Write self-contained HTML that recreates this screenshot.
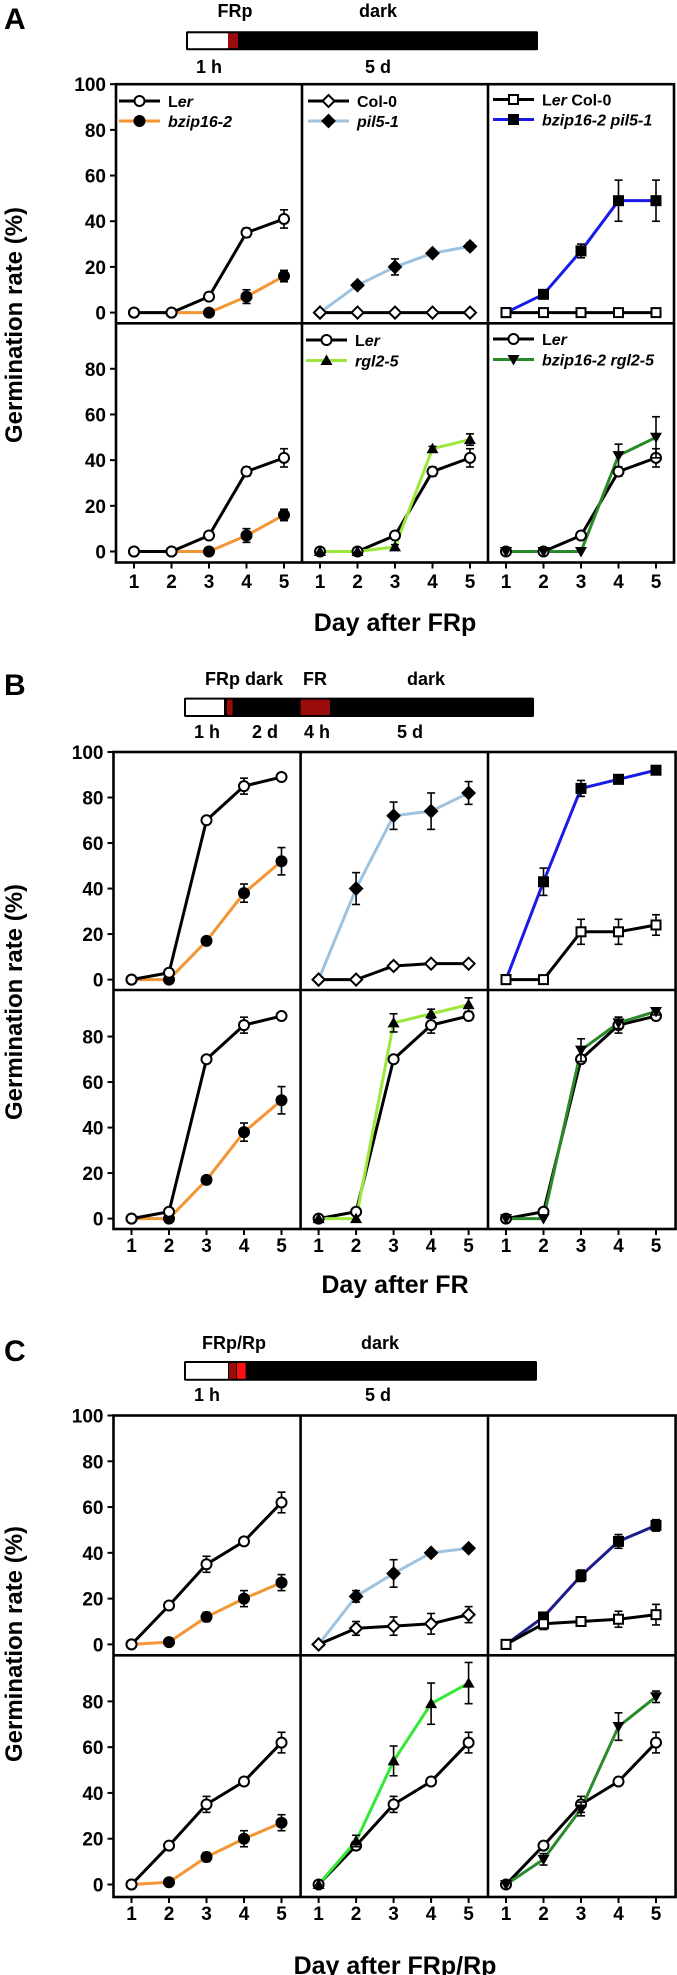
<!DOCTYPE html>
<html><head><meta charset="utf-8">
<style>
html,body{margin:0;padding:0;background:#fff;}
svg{display:block;font-family:"Liberation Sans",Arial,sans-serif;font-weight:bold;}
</style></head>
<body>
<svg id="fig" width="677" height="1975" viewBox="0 0 677 1975" xmlns="http://www.w3.org/2000/svg"></svg>
<script>
// ---- data ----
const days=[1,2,3,4,5];
const yTicksTop=[0,20,40,60,80,100];
const yTicksBot=[0,20,40,60,80];
// Panel A
const A_ler=[0,0,7,35,41], A_ler_e=[0,0,1,2,4];
const A_bzip=[0,0,0,7,16], A_bzip_e=[0,0,0,3,2.5];
const A_col=[0,0,0,0,0], A_col_e=[0,0,0,0,0];
const A_pil=[0,12,20,26,29], A_pil_e=[0,1,3.5,1,1.5];
const A_lercol=[0,0,0,0,0], A_lercol_e=[0,0,0,0,0];
const A_bzpil=[0,8,27,49,49], A_bzpil_e=[0,1.5,3,9,9];
const A_rgl=[0,0,2,45,49], A_rgl_e=[0,0,1,1,2.5];
const A_bzrgl=[0,0,0,42,50], A_bzrgl_e=[0,0,0,5,9];
// Panel B
const B_ler=[0,3,70,85,89], B_ler_e=[0,1,1,3.5,1];
const B_bzip=[0,0,17,38,52], B_bzip_e=[0,0,1.5,4,6];
const B_col=[0,0,6,7,7], B_col_e=[0,0,1.5,1,1];
const B_pil=[0,40,72,74,82], B_pil_e=[0,7,6,8,5];
const B_lercol=[0,0,21,21,24], B_lercol_e=[0,0,5.5,5.5,4.5];
const B_bzpil=[0,43,84,88,92], B_bzpil_e=[0,6,3.5,2,1];
const B_rgl=[0,0,86,90,94], B_rgl_e=[0,0,4,2,3];
const B_bzrgl=[0,0,74,86,91], B_bzrgl_e=[0,0,5,2.5,1.5];
// Panel C
const C_ler=[0,17,35,45,62], C_ler_e=[0,1,3.5,1.5,4.5];
const C_bzip=[0,1,12,20,27], C_bzip_e=[0,0.5,2,3.5,3.5];
const C_col=[0,7,8,9,13], C_col_e=[0,3,4,4.5,3.5];
const C_pil=[0,21,31,40,42], C_pil_e=[0,2.5,6,1,0.5];
const C_lercol=[0,9,10,11,13], C_lercol_e=[0,2.5,1.5,3.5,4.5];
const C_bzpil=[0,12,30,45,52], C_bzpil_e=[0,1.5,2.5,3,2.5];
const C_rgl=[0,19,54,79,88], C_rgl_e=[0,2.5,6.5,9,9];
const C_bzrgl=[0,11,33,69,82], C_bzrgl_e=[0,2.5,3,6,2.5];

const svg=document.getElementById('fig');
const NS='http://www.w3.org/2000/svg';
function el(tag,attrs,parent){const e=document.createElementNS(NS,tag);for(const k in attrs)e.setAttribute(k,attrs[k]);(parent||svg).appendChild(e);return e;}
function txt(s,x,y,size,attrs,parent){const t=el('text',Object.assign({x:x,y:y,'font-size':size,fill:'#000'},attrs||{}),parent);t.textContent=s;return t;}

const ORANGE='#f39533',LBLUE='#9fc3df',BLUE='#1a1ae8',NAVY='#1c1c8a',LGREEN='#9be83a',GREEN='#36e836',DGREEN='#2a8a2a';

const figs=[
 {name:'A',top:84.2,div:323.3,bot:562.5,zTop:312.6,zBot:551.5,left:116,cols:[116,302,488],right:674,tickY:581,title:'Day after FRp',titleY:631,ytY:325,
  letterY:29,bar:{x:186,y:31.3,w:352,h:18.9,segs:[[186,228,'#fff'],[228,238,'#9a0b0b']]},
  labels:[['FRp',235,17],['dark',378,17],['1 h',209,73],['5 d',378,73]]},
 {name:'B',top:752,div:990,bot:1229,zTop:979.6,zBot:1218.6,left:113.5,cols:[113.5,300.6,488],right:675.6,tickY:1245,title:'Day after FR',titleY:1293,ytY:1002,
  letterY:695,bar:{x:184,y:697.6,w:350,h:19.4,segs:[[184,224,'#fff'],[227,232.6,'#9a0b0b'],[300.6,330,'#9a0b0b']]},
  labels:[['FRp dark',244,685],['FR',315,685],['dark',426,685],['1 h',207,738],['2 d',265,738],['4 h',317,738],['5 d',410,738]]},
 {name:'C',top:1415.5,div:1655.3,bot:1897,zTop:1644.4,zBot:1884.5,left:113.5,cols:[113.5,300.6,488],right:675.6,tickY:1913,title:'Day after FRp/Rp',titleY:1974,ytY:1644,
  letterY:1361,bar:{x:184,y:1361,w:353,h:19.8,segs:[[184,228,'#fff'],[229,236,'#9a0b0b'],[237,245.6,'#ff1010']]},
  labels:[['FRp/Rp',234,1349],['dark',380,1349],['1 h',207,1401],['5 d',378,1401]]}
];

const subplots=[
 ['A',0,0,[[A_bzip,A_bzip_e,ORANGE,'fcircle'],[A_ler,A_ler_e,'#000','ocircle']]],
 ['A',0,1,[[A_pil,A_pil_e,LBLUE,'fdiamond'],[A_col,A_col_e,'#000','odiamond']]],
 ['A',0,2,[[A_bzpil,A_bzpil_e,BLUE,'fsquare'],[A_lercol,A_lercol_e,'#000','osquare']]],
 ['A',1,0,[[A_bzip,A_bzip_e,ORANGE,'fcircle'],[A_ler,A_ler_e,'#000','ocircle']]],
 ['A',1,1,[[A_ler,A_ler_e,'#000','ocircle'],[A_rgl,A_rgl_e,LGREEN,'tri']]],
 ['A',1,2,[[A_ler,A_ler_e,'#000','ocircle'],[A_bzrgl,A_bzrgl_e,DGREEN,'itri']]],
 ['B',0,0,[[B_bzip,B_bzip_e,ORANGE,'fcircle'],[B_ler,B_ler_e,'#000','ocircle']]],
 ['B',0,1,[[B_pil,B_pil_e,LBLUE,'fdiamond'],[B_col,B_col_e,'#000','odiamond']]],
 ['B',0,2,[[B_bzpil,B_bzpil_e,BLUE,'fsquare'],[B_lercol,B_lercol_e,'#000','osquare']]],
 ['B',1,0,[[B_bzip,B_bzip_e,ORANGE,'fcircle'],[B_ler,B_ler_e,'#000','ocircle']]],
 ['B',1,1,[[B_ler,B_ler_e,'#000','ocircle'],[B_rgl,B_rgl_e,LGREEN,'tri']]],
 ['B',1,2,[[B_ler,B_ler_e,'#000','ocircle'],[B_bzrgl,B_bzrgl_e,DGREEN,'itri']]],
 ['C',0,0,[[C_bzip,C_bzip_e,ORANGE,'fcircle'],[C_ler,C_ler_e,'#000','ocircle']]],
 ['C',0,1,[[C_pil,C_pil_e,LBLUE,'fdiamond'],[C_col,C_col_e,'#000','odiamond']]],
 ['C',0,2,[[C_bzpil,C_bzpil_e,NAVY,'fsquare'],[C_lercol,C_lercol_e,'#000','osquare']]],
 ['C',1,0,[[C_bzip,C_bzip_e,ORANGE,'fcircle'],[C_ler,C_ler_e,'#000','ocircle']]],
 ['C',1,1,[[C_ler,C_ler_e,'#000','ocircle'],[C_rgl,C_rgl_e,GREEN,'tri']]],
 ['C',1,2,[[C_ler,C_ler_e,'#000','ocircle'],[C_bzrgl,C_bzrgl_e,DGREEN,'itri']]]
];

function marker(type,x,y,g){
  const r=5;
  if(type==='ocircle'||type==='fcircle'){const m=el('circle',{cx:x,cy:y,r:r,fill:type[0]==='o'?'#fff':'#000',stroke:'#000','stroke-width':2},g);}
  else if(type==='odiamond'||type==='fdiamond'){const m=el('polygon',{points:`${x},${y-6} ${x+6},${y} ${x},${y+6} ${x-6},${y}`,fill:type[0]==='o'?'#fff':'#000',stroke:'#000','stroke-width':2},g);}
  else if(type==='osquare'||type==='fsquare'){const m=el('rect',{x:x-4.5,y:y-4.5,width:9,height:9,fill:type[0]==='o'?'#fff':'#000',stroke:'#000','stroke-width':2},g);}
  else if(type==='tri'){const m=el('polygon',{points:`${x},${y-6} ${x+6},${y+4.5} ${x-6},${y+4.5}`,fill:'#000'},g);}
  else if(type==='itri'){const m=el('polygon',{points:`${x},${y+6} ${x+6},${y-4.5} ${x-6},${y-4.5}`,fill:'#000'},g);}
}

figs.forEach(f=>{
  const g=el('g',{});
  
  
  const L=txt(f.name,4,f.letterY,30,{},g);
  
  
  const tb=el('g',{},g);
  
  
  el('rect',{x:f.bar.x,y:f.bar.y,width:f.bar.w,height:f.bar.h,fill:'#000',rx:1.5},tb);
  f.bar.segs.forEach((s,i)=>{el('rect',{x:s[0]+(i===0?2:0),y:f.bar.y+2,width:s[1]-s[0]-(i===0?2:0),height:f.bar.h-4,fill:s[2]},tb);});
  f.labels.forEach(l=>{const t=txt(l[0],l[1],l[2],18,{'text-anchor':'middle'},tb);});
  const unit=(f.zTop-f.top)/100;
  const step=(168-18)/4;
  yTicksTop.forEach(v=>{const y=f.zTop-v*unit;el('line',{x1:f.left-6,x2:f.left,y1:y,y2:y,stroke:'#000','stroke-width':2},g);
    const t=txt(String(v),f.left-10,y+7,19,{'text-anchor':'end'},g);});
  yTicksBot.forEach(v=>{const y=f.zBot-v*unit;el('line',{x1:f.left-6,x2:f.left,y1:y,y2:y,stroke:'#000','stroke-width':2},g);
    const t=txt(String(v),f.left-10,y+7,19,{'text-anchor':'end'},g);});
  f.cols.forEach(c=>{days.forEach(d=>{const x=c+18+(d-1)*step;el('line',{x1:x,x2:x,y1:f.bot,y2:f.bot+6,stroke:'#000','stroke-width':2},g);
    const t=txt(String(d),x,f.tickY+7,19,{'text-anchor':'middle'},g);});});
  const xt=txt(f.title,395,f.titleY,25,{'text-anchor':'middle'},g);
  
  
  const yt=txt('Germination rate (%)',0,0,24,{'text-anchor':'middle',transform:`translate(22,${f.ytY}) rotate(-90)`},g);
  
  
  f.g=g;f.unit=unit;f.step=step;
});

subplots.forEach(sp=>{
  const f=figs.find(q=>q.name===sp[0]);
  const row=sp[1],col=sp[2];
  const zero=row===0?f.zTop:f.zBot;
  const X=d=>f.cols[col]+18+(d-1)*f.step;
  const Y=v=>zero-v*f.unit;
  const g=el('g',{},f.g);
  
  
  sp[3].forEach(s=>{
    const p=el('polyline',{points:days.map((d,i)=>X(d)+','+Y(s[0][i])).join(' '),fill:'none',stroke:s[2],'stroke-width':3,'stroke-linejoin':'round'},g);
    
    
  });
  sp[3].forEach(s=>{
    days.forEach((d,i)=>{const e=s[1][i];if(e>0){const x=X(d);const y1=Y(s[0][i]+e),y2=Y(s[0][i]-e);
      el('line',{x1:x,x2:x,y1:y1,y2:y2,stroke:'#000','stroke-width':1.6},g);
      el('line',{x1:x-4,x2:x+4,y1:y1,y2:y1,stroke:'#000','stroke-width':1.6},g);
      el('line',{x1:x-4,x2:x+4,y1:y2,y2:y2,stroke:'#000','stroke-width':1.6},g);}});
    days.forEach((d,i)=>marker(s[3],X(d),Y(s[0][i]),g));
  });
});

figs.forEach(f=>{
  el('rect',{x:f.left,y:f.top,width:f.right-f.left,height:f.bot-f.top,fill:'none',stroke:'#000','stroke-width':2.6},f.g);
  el('line',{x1:f.left,x2:f.right,y1:f.div,y2:f.div,stroke:'#000','stroke-width':2.6},f.g);
  [f.cols[1],f.cols[2]].forEach(c=>el('line',{x1:c,x2:c,y1:f.top,y2:f.bot,stroke:'#000','stroke-width':2.6},f.g));
});

const legends=[
 [119,101,'Ler',true,'#000','ocircle'],[119,121,'bzip16-2',false,ORANGE,'fcircle'],
 [308,101,'Col-0',false,'#000','odiamond'],[308,121,'pil5-1',false,LBLUE,'fdiamond'],
 [493,99.5,'Ler Col-0',true,'#000','osquare'],[493,119.5,'bzip16-2 pil5-1',false,BLUE,'fsquare'],
 [306,340,'Ler',true,'#000','ocircle'],[306,360.5,'rgl2-5',false,LGREEN,'tri'],
 [493,339,'Ler',true,'#000','ocircle'],[493,359.5,'bzip16-2 rgl2-5',false,DGREEN,'itri']
];
const lg=el('g',{},figs[0].g);


legends.forEach(l=>{
  const e=el('g',{},lg);
  
  
  el('line',{x1:l[0],x2:l[0]+41,y1:l[1],y2:l[1],stroke:l[4],'stroke-width':3},e);
  marker(l[5],l[0]+20.5,l[1],e);
  const t=el('text',{x:l[0]+49,y:l[1]+6,'font-size':16,fill:'#000'},e);
  if(l[3]){
    const s1=el('tspan',{},t);s1.textContent='L';
    const s2=el('tspan',{'font-style':'italic'},t);s2.textContent='er';
    if(l[2].length>3){const s3=el('tspan',{},t);s3.textContent=' Col-0';}
  } else if(l[2]==='Col-0'){t.textContent='Col-0';}
  else {t.setAttribute('font-style','italic');t.textContent=l[2];}
});
</script>
</body></html>
